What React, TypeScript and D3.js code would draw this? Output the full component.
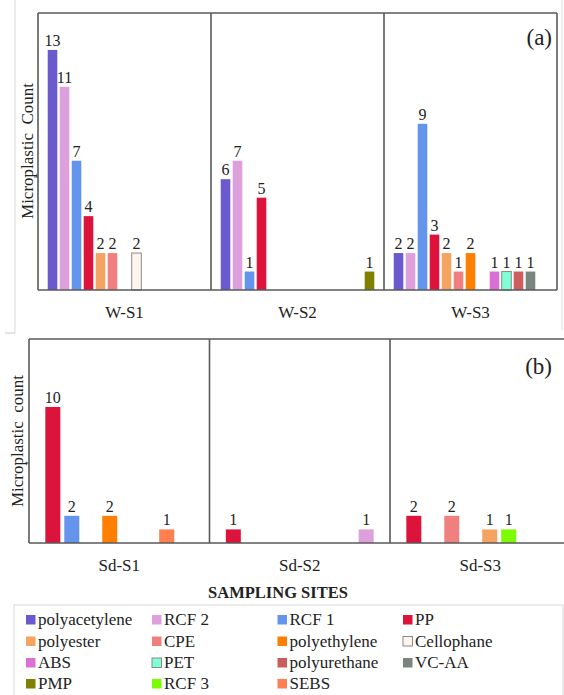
import React from "react";
import * as d3 from "d3";

const topSites = ["W-S1", "W-S2", "W-S3"];
const topSeries = ["polyacetylene", "RCF 2", "RCF 1", "PP", "polyester", "CPE", "polyethylene", "Cellophane", "ABS", "PET", "polyurethane", "VC-AA", "PMP"];
const topPolyacetylene = [13, 6, 2];
const topRcf2 = [11, 7, 2];
const topRcf1 = [7, 1, 9];
const topPP = [4, 5, 3];
const topPolyester = [2, 0, 2];
const topCPE = [2, 0, 1];
const topPolyethylene = [0, 0, 2];
const topCellophane = [2, 0, 0];
const topABS = [0, 0, 1];
const topPET = [0, 0, 1];
const topPolyurethane = [0, 0, 1];
const topVCAA = [0, 0, 1];
const topPMP = [0, 1, 0];
const topValues = [topPolyacetylene, topRcf2, topRcf1, topPP, topPolyester, topCPE, topPolyethylene, topCellophane, topABS, topPET, topPolyurethane, topVCAA, topPMP];

const botSites = ["Sd-S1", "Sd-S2", "Sd-S3"];
const botSeries = ["PP", "RCF 1", "CPE", "polyethylene", "polyester", "RCF 3", "SEBS", "RCF 2"];
const botPP = [10, 1, 2];
const botRcf1 = [2, 0, 0];
const botCPE = [0, 0, 2];
const botPolyethylene = [2, 0, 0];
const botPolyester = [0, 0, 1];
const botRcf3 = [0, 0, 1];
const botSEBS = [1, 0, 0];
const botRcf2 = [0, 1, 0];
const botValues = [botPP, botRcf1, botCPE, botPolyethylene, botPolyester, botRcf3, botSEBS, botRcf2];

const legendItems = ["polyacetylene", "RCF 2", "RCF 1", "PP", "polyester", "CPE", "polyethylene", "Cellophane", "ABS", "PET", "polyurethane", "VC-AA", "PMP", "RCF 3", "SEBS"];
const colors: Record<string, string> = {
  "polyacetylene": "#6A5ACD",
  "RCF 2": "#DDA0DD",
  "RCF 1": "#6495ED",
  "PP": "#DC143C",
  "polyester": "#F4A460",
  "CPE": "#F08080",
  "polyethylene": "#FF8000",
  "Cellophane": "#FFF5EE",
  "ABS": "#DA70D6",
  "PET": "#7FFFD4",
  "polyurethane": "#CD5C5C",
  "VC-AA": "#7B8580",
  "PMP": "#808000",
  "RCF 3": "#7CFC00",
  "SEBS": "#FF7F50",
};
const outlined = new Set(["Cellophane", "PET"]);

const FONT = "Liberation Serif, DejaVu Serif, serif";
const FRAME = "#595959";
const T = { fontFamily: FONT } as React.CSSProperties;

type PanelProps = {
  sites: string[];
  series: string[];
  values: number[][];
  x0: number;
  x1: number;
  yTop: number;
  yBase: number;
  paddingInner: number;
  paddingOuter: number;
  labelY: number;
  drawRight: boolean;
};

function Panel(p: PanelProps) {
  const gx = d3.scaleBand<string>().domain(p.sites).range([p.x0, p.x1]).padding(0);
  const gw = gx.bandwidth();
  const ix = d3.scaleBand<string>().domain(p.series).range([0, gw]).paddingInner(p.paddingInner).paddingOuter(p.paddingOuter);
  const y = d3.scaleLinear().domain([0, 15]).range([p.yBase, p.yTop]);
  const bars: React.ReactNode[] = [];
  p.series.forEach((s, si) => {
    p.sites.forEach((site, gi) => {
      const v = p.values[si][gi];
      if (!v) return;
      const bx = (gx(site) as number) + (ix(s) as number);
      const bw = ix.bandwidth();
      bars.push(
        <g key={s + site}>
          <rect x={bx} y={y(v)} width={bw} height={y(0) - y(v)} fill={colors[s]}
            stroke={outlined.has(s) ? "#8a8a8a" : "none"} strokeWidth={1} />
          <text x={bx + bw / 2} y={y(v) - 4} textAnchor="middle" fontSize={16} style={T} fill="#222">{v}</text>
        </g>
      );
    });
  });
  return (
    <g>
      {bars}
      <line x1={p.x0} x2={p.x1} y1={p.yTop} y2={p.yTop} stroke={FRAME} strokeWidth={1.6} />
      <line x1={p.x0} x2={p.x1} y1={p.yBase} y2={p.yBase} stroke={FRAME} strokeWidth={1.6} />
      {p.sites.map((site, i) => (
        <line key={"d" + i} x1={gx(site) as number} x2={gx(site) as number} y1={p.yTop} y2={p.yBase} stroke={FRAME} strokeWidth={1.6} />
      ))}
      {p.drawRight && <line x1={p.x1} x2={p.x1} y1={p.yTop} y2={p.yBase} stroke={FRAME} strokeWidth={1.6} />}
      {p.sites.map((site) => (
        <text key={"l" + site} x={(gx(site) as number) + gw / 2} y={p.labelY} textAnchor="middle" fontSize={17} style={T} fill="#222">{site}</text>
      ))}
    </g>
  );
}

export default function App() {
  const cols = [26, 152, 277.5, 403];
  const rows = [625, 646.5, 668, 689];
  return (
    <svg width={564} height={695} style={{ position: "absolute", left: 0, top: 0, background: "#fff" }}>
      <rect x={0} y={0} width={564} height={695} fill="#fff" />
      <line x1={15} x2={15} y1={0} y2={333} stroke="#d9d9d9" strokeWidth={1} />
      <line x1={5} x2={15} y1={333} y2={333} stroke="#c8c8c8" strokeWidth={1} />
      <line x1={562} x2={562} y1={0} y2={330} stroke="#d9d9d9" strokeWidth={1} />
      <rect x={14} y={605} width={549} height={100} fill="none" stroke="#d9d9d9" strokeWidth={1} />

      <Panel sites={topSites} series={topSeries} values={topValues} x0={38} x1={557} yTop={13} yBase={290}
        paddingInner={0.2} paddingOuter={0.81} labelY={318} drawRight={true} />
      <Panel sites={botSites} series={botSeries} values={botValues} x0={29} x1={570.5} yTop={339} yBase={543}
        paddingInner={0.21} paddingOuter={0.86} labelY={571} drawRight={false} />

      <line x1={34} x2={38} y1={177} y2={177} stroke={FRAME} strokeWidth={1} />
      <line x1={25} x2={29} y1={463} y2={463} stroke={FRAME} strokeWidth={1} />

      <text transform="translate(33,151) rotate(-90)" textAnchor="middle" fontSize={17} style={{ ...T, whiteSpace: "pre" }} fill="#222">{"Microplastic  Count"}</text>
      <text transform="translate(23,441) rotate(-90)" textAnchor="middle" fontSize={17} style={{ ...T, whiteSpace: "pre" }} fill="#222">{"Microplastic  count"}</text>

      <text x={552} y={45} textAnchor="end" fontSize={23} style={T} fill="#222">(a)</text>
      <text x={552} y={374} textAnchor="end" fontSize={23} style={T} fill="#222">(b)</text>

      <text x={278} y={598} textAnchor="middle" fontSize={16.5} fontWeight="bold" style={T} fill="#222">SAMPLING SITES</text>

      {legendItems.map((name, i) => {
        const c = i % 4;
        const r = Math.floor(i / 4);
        return (
          <g key={name}>
            <rect x={cols[c]} y={rows[r] - 10} width={9.5} height={9.5} fill={colors[name]}
              stroke={outlined.has(name) ? "#8a8a8a" : "none"} strokeWidth={1} />
            <text x={cols[c] + 12} y={rows[r]} fontSize={17} style={T} fill="#222">{name}</text>
          </g>
        );
      })}
    </svg>
  );
}
